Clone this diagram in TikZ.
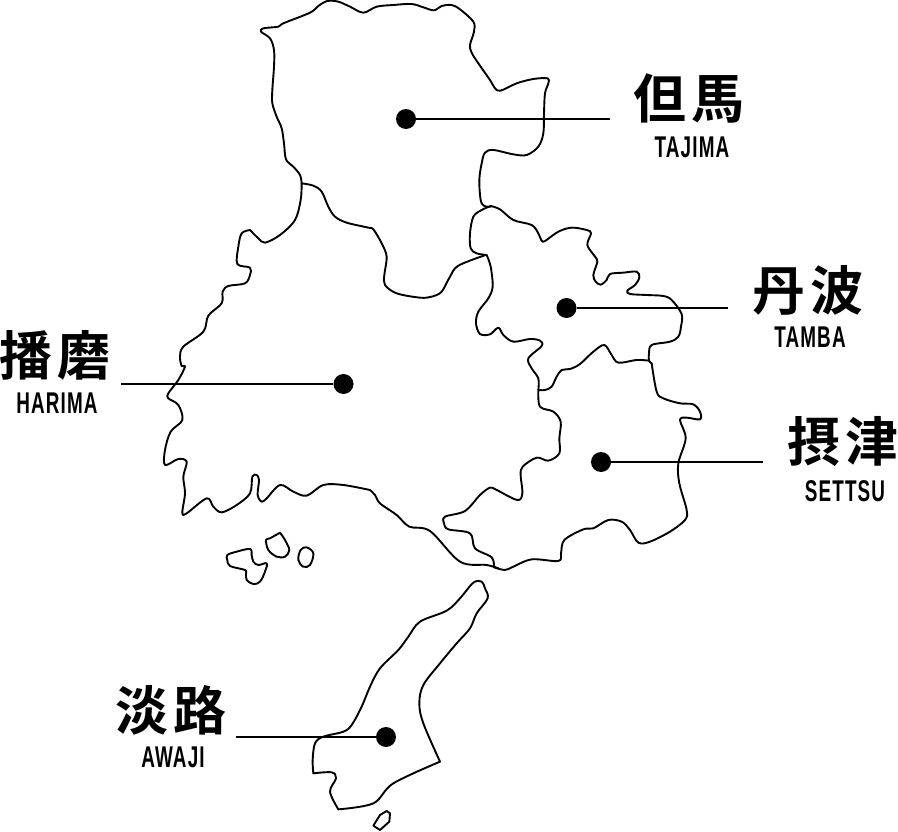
\documentclass[tikz,border=0pt]{standalone}
\usepackage{fontspec}
\newfontfamily\cjk{Noto Sans CJK JP Bold}
\newfontfamily\lat[LetterSpace=6]{Liberation Sans}
\tikzset{
  land/.style={line width=1.9pt,line cap=round,line join=round,black},
  lead/.style={line width=1.7pt,black},
  dotmark/.style={circle,fill=black,inner sep=0pt,minimum size=20pt},
  kanji/.style={inner sep=0pt,font={\cjk\fontsize{53}{53}\selectfont}},
  roman/.style={inner sep=0pt,xscale=.63,font={\lat\bfseries\fontsize{30}{30}\selectfont}},
  smoothp/.style={smooth,tension=.55}
}
\newcommand{\coast}[3]{\draw[land,shift={(#1,#2)},scale=1/3] plot[smoothp] coordinates {#3};}
\newcommand{\isle}[3]{\draw[land,shift={(#1,#2)},scale=1/3] plot[smooth cycle,tension=.6] coordinates {#3};}
\begin{document}
\begin{tikzpicture}[x=1pt,y=-1pt]
\useasboundingbox (0,0) rectangle (898,832);
% Tajima
\coast{250}{0}{(155,550)(150,525)(130,500)(108,478)(102,430)(95,385)(80,350)(67,310)(67,270)(72,200)(72,150)(60,115)(33,95)(40,85)(85,80)(100,70)(180,38)(205,18)(232,3)(265,5)(300,20)(340,38)(380,20)(430,15)(485,12)(520,22)(552,31)(575,18)(605,15)(630,28)(670,65)(672,95)(660,135)(665,158)(685,190)(720,240)(735,265)(752,272)(800,250)(850,237)(893,235)(895,250)(885,280)(882,340)(880,400)(865,440)(830,465)(790,463)(730,450)(705,458)(695,490)(688,540)(692,600)(703,618)(722,620)}
\coast{250}{0}{(707,765)(625,797)(600,830)(575,875)(545,890)(510,893)(440,880)(405,855)(403,825)(410,770)(395,730)(370,688)(355,683)(290,668)(255,650)(235,620)(215,575)(190,557)(155,550)}
% Tamba
\coast{430}{190}{(182,48)(210,58)(250,90)(305,105)(325,130)(335,152)(345,153)(385,125)(425,113)(470,120)(483,130)(472,165)(495,200)(502,215)(490,255)(497,275)(512,284)(530,270)(540,252)(580,248)(620,245)(628,262)(615,285)(592,302)(600,312)(650,315)(700,318)(725,330)(755,372)(753,410)(745,440)(720,455)(665,465)(657,490)(657,512)(665,520)}
\coast{430}{190}{(657,512)(620,510)(565,518)(545,495)(523,465)(490,485)(450,522)(420,537)(395,540)(380,560)(365,590)(345,600)(325,600)}
\coast{430}{190}{(170,195)(182,230)(188,290)(175,325)(145,365)(138,400)(150,432)(180,433)(205,413)(220,435)(250,455)(300,447)(330,452)(335,468)(295,505)(305,535)(325,565)(325,600)}
\coast{430}{190}{(182,48)(155,60)(130,80)(120,130)(122,175)(140,190)(170,195)}
% Harima
\coast{250}{0}{(155,550)(152,600)(135,660)(90,705)(45,728)(25,715)(0,690)}
\coast{150}{220}{(300,30)(275,40)(265,80)(262,132)(300,143)(300,165)(285,190)(235,198)(218,215)(215,250)(175,287)(160,335)(100,380)(90,410)(95,438)(105,440)(85,480)(55,520)(55,535)(85,555)(97,600)(62,635)(45,690)(45,735)(85,717)(110,725)(100,770)(105,820)(97,878)(110,880)(170,835)(190,860)(215,877)(260,855)(300,820)(307,770)(320,765)(327,780)(323,825)(335,845)(350,835)(390,795)(430,815)(470,827)(520,795)(580,795)(660,810)}
\coast{170}{460}{(600,90)(615,105)(630,130)(680,165)(718,200)(780,213)(870,305)(950,315)(985,325)}
% Settsu
\coast{430}{350}{(325,122)(330,170)(370,185)(392,215)(388,265)(388,310)(355,332)(320,323)(278,350)(272,375)(277,430)(262,450)(200,420)(180,413)(150,435)(105,483)(45,500)(42,520)(55,538)(120,550)(135,595)(185,622)(192,652)}
\coast{430}{350}{(192,652)(225,660)(250,650)(305,628)(385,633)(393,610)(403,570)(460,538)(490,535)(535,510)(575,515)(600,540)(625,578)(660,575)(720,545)(765,510)(770,480)(748,400)(745,340)(767,265)(750,210)(770,203)(810,208)(810,185)(790,163)(750,160)(700,145)(680,125)(665,40)}
% Awaji
\coast{300}{570}{(40,610)(38,570)(45,520)(70,500)(130,485)(155,465)(185,410)(210,350)(240,295)(295,240)(325,200)(360,155)(440,122)(480,85)(520,38)(545,35)(555,55)(563,85)(530,130)(510,175)(470,220)(420,280)(370,345)(358,400)(370,460)(420,575)}
\coast{300}{570}{(420,575)(280,640)(220,700)(115,718)}
\coast{300}{570}{(115,718)(90,665)(108,625)(95,607)(40,610)}
\draw[land,shift={(300,570)},scale=1/3] (260,723) -- (270,730) -- (268,755) -- (240,780) -- (220,767) -- (240,735) -- cycle;
% islands
\isle{170}{460}{(172,285)(200,275)(240,267)(245,285)(250,305)(265,315)(290,310)(285,335)(270,365)(250,372)(230,360)(228,340)(225,330)(180,318)(172,300)}
\coast{170}{460}{(330,218)(345,240)(358,270)(345,290)(320,290)(295,270)(288,240)(300,235)(330,218)}
\isle{170}{460}{(410,262)(430,280)(420,315)(400,320)(385,300)(392,270)}
% dots
\node[dotmark] (dTajima) at (406,119) {};
\node[dotmark] (dTamba) at (566.5,308) {};
\node[dotmark] (dSettsu) at (601,462) {};
\node[dotmark] (dHarima) at (343.5,384) {};
\node[dotmark] (dAwaji) at (386,737) {};
% leader ends
\coordinate (eTajima) at (610,119);
\coordinate (eTamba) at (728,308);
\coordinate (eSettsu) at (763,462);
\coordinate (eHarima) at (121,384);
\coordinate (eAwaji) at (236,737);
\draw[lead] (dTajima) -- (eTajima);
\draw[lead] (dTamba) -- (eTamba);
\draw[lead] (dSettsu) -- (eSettsu);
\draw[lead] (dHarima) -- (eHarima);
\draw[lead] (dAwaji) -- (eAwaji);
% labels
\node[kanji] (kTajima) at (689,98) {\addfontfeature{LetterSpace=9}但馬};
\node[roman] (rTajima) at (692,147) {TAJIMA};
\node[kanji] (kTamba) at (808,290) {\addfontfeature{LetterSpace=9}丹波};
\node[roman] (rTamba) at (810,337) {TAMBA};
\node[kanji] (kSettsu) at (843,442) {\addfontfeature{LetterSpace=9}摂津};
\node[roman] (rSettsu) at (845,491) {SETTSU};
\node[kanji] (kHarima) at (55,355) {\addfontfeature{LetterSpace=9}播磨};
\node[roman] (rHarima) at (57,403) {HARIMA};
\node[kanji] (kAwaji) at (171,710) {\addfontfeature{LetterSpace=9}淡路};
\node[roman] (rAwaji) at (173,757) {AWAJI};
\end{tikzpicture}
\end{document}
